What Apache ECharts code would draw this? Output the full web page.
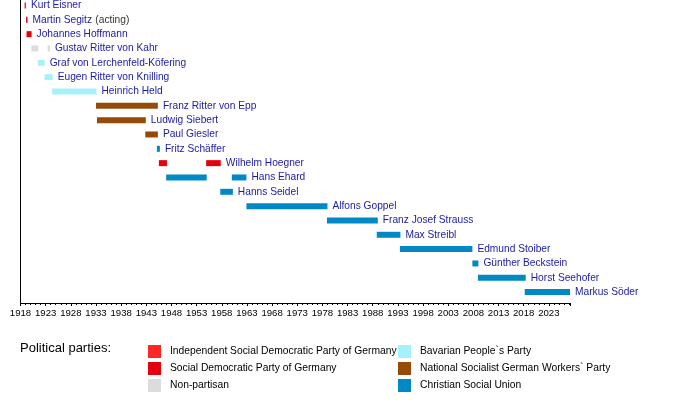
<!DOCTYPE html>
<html>
<head>
<meta charset="utf-8">
<script src="https://cdn.jsdelivr.net/npm/echarts@6/dist/echarts.min.js"></script>
<style>
  html, body { margin: 0; padding: 0; background: #fff; }
  #chart { width: 700px; height: 403px; }
</style>
</head>
<body>
<div id="chart"></div>
<script>
// Minister-Presidents of Bavaria, one row each (top to bottom)
var names = [
    "Kurt Eisner", "Martin Segitz", "Johannes Hoffmann", "Gustav Ritter von Kahr",
    "Graf von Lerchenfeld-Köfering", "Eugen Ritter von Knilling", "Heinrich Held",
    "Franz Ritter von Epp", "Ludwig Siebert", "Paul Giesler", "Fritz Schäffer",
    "Wilhelm Hoegner", "Hans Ehard", "Hanns Seidel", "Alfons Goppel",
    "Franz Josef Strauss", "Max Streibl", "Edmund Stoiber", "Günther Beckstein",
    "Horst Seehofer", "Markus Söder"
];
var nameNotes = ["", "(acting)", "", "", "", "", "", "", "", "", "", "", "", "", "", "", "", "", "", "", ""];

var parties = [
    "Independent Social Democratic Party of Germany",
    "Social Democratic Party of Germany",
    "Non-partisan",
    "Bavarian People`s Party",
    "National Socialist German Workers` Party",
    "Christian Social Union"
];
var partyColors = ["#ff2626", "#e3000f", "#dcdcdc", "#a6f1fc", "#954b07", "#0089c4"];

// terms in office (one entry per bar)
var termRow   = [0, 1, 2, 3, 3, 4, 5, 6, 7, 8, 9, 10, 11, 11, 12, 12, 13, 14, 15, 16, 17, 18, 19, 20];
var termStart = [1918.8, 1919.1, 1919.2, 1920.15, 1923.4, 1921.45, 1922.8, 1924.3, 1933.0, 1933.2, 1942.8,
                 1945.1, 1945.5, 1954.9, 1946.95, 1960.0, 1957.7, 1962.9, 1978.9, 1988.8, 1993.4, 2007.8,
                 2008.9, 2018.2];
var termEnd   = [1919.1, 1919.4, 1920.2, 1921.55, 1923.85, 1922.8, 1924.4, 1933.1, 1945.3, 1942.9, 1945.3,
                 1945.7, 1947.1, 1957.8, 1955.0, 1962.9, 1960.2, 1979.0, 1989.0, 1993.5, 2007.8, 2009.0,
                 2018.4, 2027.2];
var termParty = [0, 1, 1, 2, 2, 3, 3, 3, 4, 4, 4, 5, 1, 1, 5, 5, 5, 5, 5, 5, 5, 5, 5, 5];

var startYear = 1918;
var endYear = 2027.2;

// last bar of each row carries the name label
var lastOfRow = {};
termRow.forEach(function (r, i) {
    if (lastOfRow[r] === undefined || termEnd[i] > termEnd[lastOfRow[r]]) lastOfRow[r] = i;
});

function renderTerm(params, api) {
    var row = api.value(0);
    var p0 = api.coord([api.value(1), row]);
    var p1 = api.coord([api.value(2), row]);
    var h = 6;
    var children = [{
        type: "rect",
        shape: {x: p0[0], y: p0[1] - h / 2, width: Math.max(p1[0] - p0[0], 1.2), height: h},
        style: {fill: api.visual("color")}
    }];
    if (api.value(3)) {
        var note = nameNotes[row];
        children.push({
            type: "text",
            x: Math.max(p1[0], p0[0] + 1.2) + 5,
            y: p1[1],
            style: {
                text: "{n|" + names[row] + "}" + (note ? " {a|" + note + "}" : ""),
                verticalAlign: "middle",
                align: "left",
                rich: {
                    n: {fontFamily: "Liberation Sans", fontSize: 10.2, fill: "#1a1aa6"},
                    a: {fontFamily: "Liberation Sans", fontSize: 10.2, fill: "#333"}
                }
            }
        });
    }
    return {type: "group", children: children};
}

var series = parties.map(function (party, k) {
    var data = [];
    termRow.forEach(function (r, i) {
        if (termParty[i] === k) {
            data.push([r, termStart[i] - startYear, termEnd[i] - startYear, lastOfRow[r] === i ? 1 : 0]);
        }
    });
    return {
        name: party,
        type: "custom",
        renderItem: renderTerm,
        color: partyColors[k],
        encode: {x: [1, 2], y: 0},
        data: data,
        silent: true
    };
});

var legendBase = {
    orient: "vertical",
    top: 345,
    padding: 0,
    itemWidth: 13,
    itemHeight: 13,
    itemGap: 4,
    icon: "rect",
    selectedMode: false,
    textStyle: {fontFamily: "Liberation Sans", fontSize: 10.3, color: "#000", padding: [0, 0, 0, 4]}
};

var option = {
    animation: false,
    backgroundColor: "#fff",
    title: {
        text: "Political parties:",
        left: 20,
        top: 342,
        padding: 0,
        textStyle: {fontFamily: "Liberation Sans", fontSize: 13, fontWeight: "normal", color: "#000"}
    },
    legend: [
        Object.assign({}, legendBase, {left: 148, data: parties.slice(0, 3)}),
        Object.assign({}, legendBase, {left: 398, data: parties.slice(3, 6)})
    ],
    grid: {left: 20.5, top: 0, width: 549.5, height: 303, containLabel: false, outerBoundsMode: "none"},
    xAxis: {
        type: "value",
        min: 0,
        max: endYear - startYear,
        interval: 5,
        axisLine: {show: true, onZero: false, lineStyle: {color: "#000", width: 1}},
        axisTick: {show: true, length: 3, lineStyle: {color: "#000"}},
        minorTick: {show: true, splitNumber: 5, length: 2, lineStyle: {color: "#000"}},
        splitLine: {show: false},
        minorSplitLine: {show: false},
        axisLabel: {
            fontFamily: "Liberation Sans",
            fontSize: 9.6,
            color: "#000",
            margin: 5,
            showMaxLabel: false,
            formatter: function (v) { return String(Math.round(v + startYear)); }
        }
    },
    yAxis: {
        type: "value",
        inverse: true,
        min: -0.384,
        max: 20.76,
        axisLine: {show: true, onZero: false, lineStyle: {color: "#000", width: 1}},
        axisTick: {show: false},
        axisLabel: {show: false},
        splitLine: {show: false}
    },
    series: series
};

var chart = echarts.init(document.getElementById("chart"));
chart.setOption(option);
</script>
</body>
</html>
